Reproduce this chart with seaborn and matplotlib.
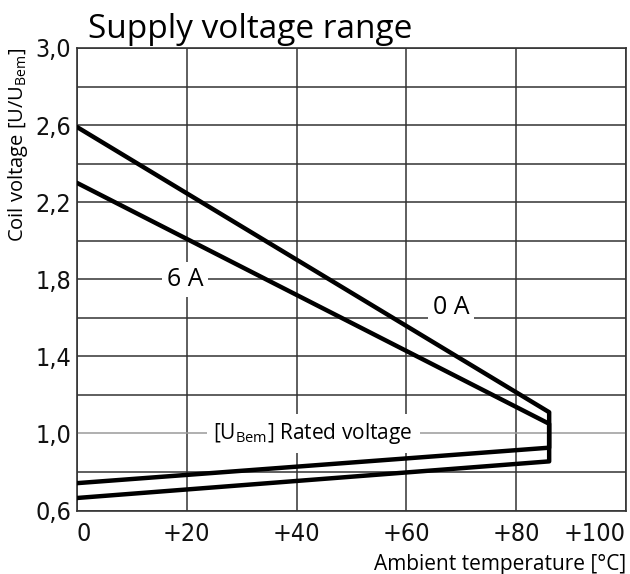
import matplotlib
matplotlib.use("Agg")
import matplotlib.pyplot as plt
import seaborn as sns
import pandas as pd

# outline of the two operating ranges (temperature in degC, voltage in U/UBem)
temp_0A = [0, 86, 86, 0]
volt_0A = [2.59, 1.11, 0.855, 0.665]
temp_6A = [0, 86, 86, 0]
volt_6A = [2.30, 1.05, 0.926, 0.742]

x_ticks = [0, 20, 40, 60, 80, 100]
x_labels = ["0", "+20", "+40", "+60", "+80", "+100"]
y_ticks = [0.6, 1.0, 1.4, 1.8, 2.2, 2.6, 3.0]
y_labels = ["0,6", "1,0", "1,4", "1,8", "2,2", "2,6", "3,0"]

sns.set_style("white")
plt.rcParams["font.family"] = ["Open Sans", "DejaVu Sans"]
plt.rcParams["mathtext.fontset"] = "custom"
plt.rcParams["mathtext.rm"] = "Open Sans"
plt.rcParams["text.color"] = "black"

df = pd.concat([
    pd.DataFrame({"temp": temp_0A, "volt": volt_0A, "curve": "0 A"}),
    pd.DataFrame({"temp": temp_6A, "volt": volt_6A, "curve": "6 A"}),
])

fig = plt.figure(figsize=(6.3, 5.74), dpi=100)
ax = fig.add_axes([0.1222, 0.1106, 0.8715, 0.8058])

for name, grp in df.groupby("curve"):
    sns.lineplot(x="temp", y="volt", data=grp, sort=False, estimator=None,
                 color="black", lw=3.2, ax=ax, zorder=5)

ax.set_xlim(0, 100)
ax.set_ylim(0.6, 3.0)
ax.set_xticks(x_ticks)
ax.set_xticklabels(x_labels)
ax.set_yticks(y_ticks)
ax.set_yticklabels(y_labels)
ax.set_yticks([0.8, 1.2, 1.6, 2.0, 2.4, 2.8], minor=True)

ax.grid(True, which="both", color="#333333", lw=1.1)
ax.yaxis.get_gridlines()[1].set_color("#9a9a9a")
ax.tick_params(which="both", length=0)
ax.tick_params(axis="y", pad=4)
ax.tick_params(axis="x", pad=8)
for lab in ax.get_xticklabels() + ax.get_yticklabels():
    lab.set_family(["Liberation Sans Narrow", "DejaVu Sans"])
    lab.set_stretch("condensed")
    lab.set_fontsize(18)
    lab.set_color("#111111")
ax.get_xticklabels()[-1].set_ha("right")
ax.get_xticklabels()[0].set_ha("left")
for s in ax.spines.values():
    s.set_color("#333333")
    s.set_linewidth(1.2)

ax.set_xlabel("Ambient temperature [°C]", loc="right", fontsize=15, labelpad=6, color="black")
ax.set_ylabel(r"Coil voltage [U/U$_{\mathrm{Bem}}$]", loc="top", fontsize=14.5, labelpad=4,
              color="black")

box = dict(facecolor="white", edgecolor="none", pad=3.5)
ax.text(19.7, 1.8, "6 A", fontsize=18, ha="center", va="center", bbox=box, zorder=4)
ax.text(68.1, 1.655, "0 A", fontsize=18, ha="center", va="center", bbox=box, zorder=4)
ax.text(43.0, 1.0, r"[U$_{\mathrm{Bem}}$] Rated voltage", fontsize=15, ha="center",
        va="center", bbox=dict(facecolor="white", edgecolor="none", pad=5), zorder=4)

fig.text(88 / 630, 1 - 38 / 574, "Supply voltage range", fontsize=24, va="baseline", ha="left",
         color="black")

fig.savefig("out.png", dpi=100)
